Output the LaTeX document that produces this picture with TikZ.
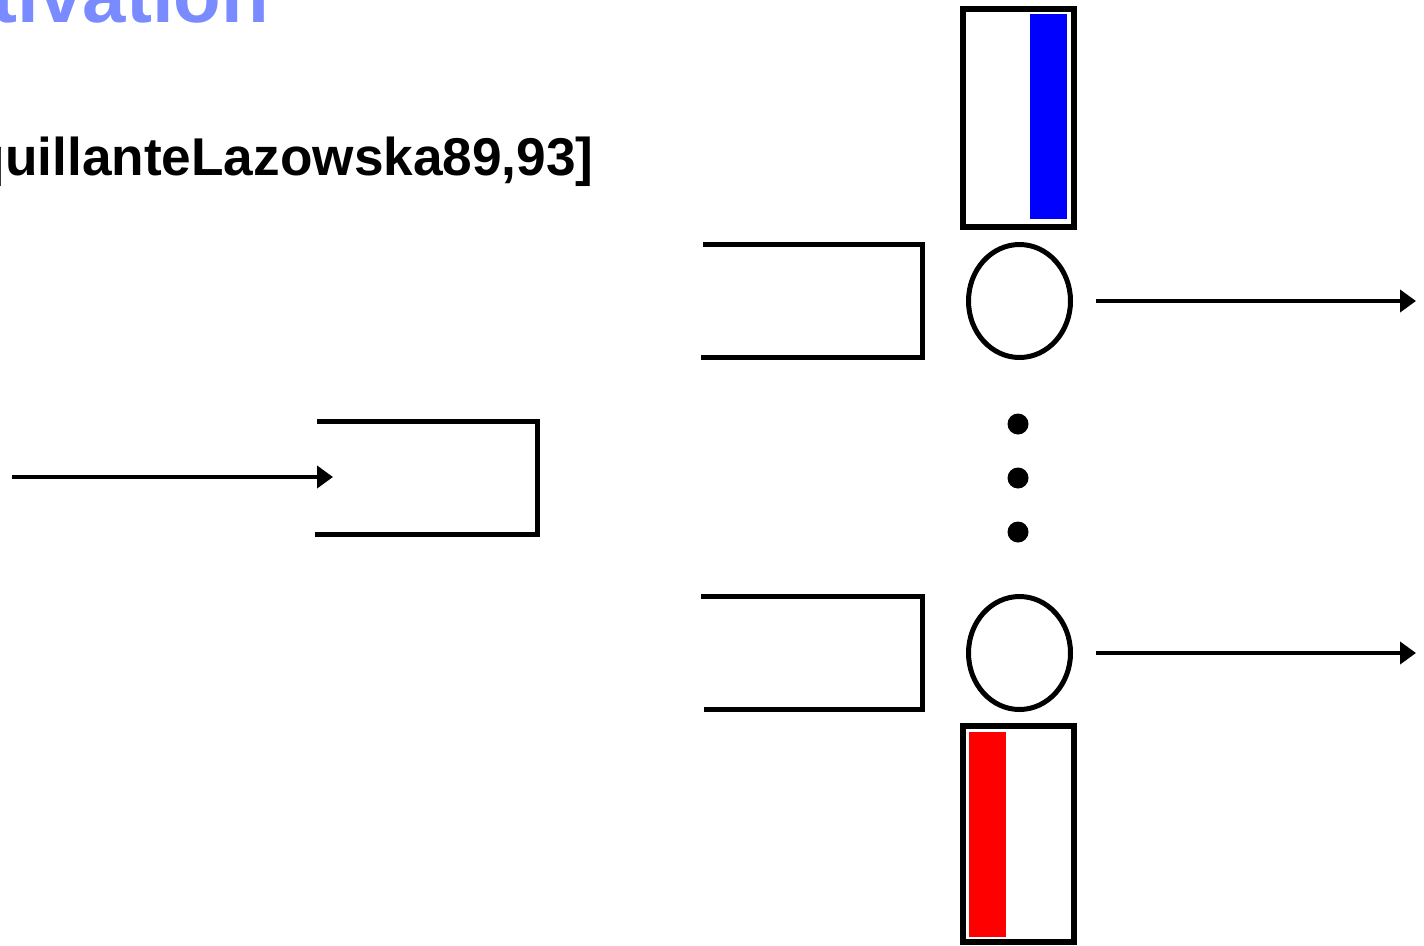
\documentclass[tikz,border=0pt]{standalone}
\usepackage{fontspec}
\setmainfont{Liberation Sans}
\usetikzlibrary{arrows.meta,shapes.geometric}
\definecolor{titleblue}{RGB}{122,138,255}
\definecolor{busyblue}{RGB}{0,0,255}
\definecolor{busyred}{RGB}{255,0,0}
\begin{document}
\begin{tikzpicture}[x=1pt,y=-1pt,
  queue/.style={line width=5pt},
  server/.style={draw,ellipse,line width=5pt,minimum width=102pt,minimum height=113pt,inner sep=0pt},
  flow/.style={line width=4.5pt,-{Triangle[length=16pt,width=22pt]}},
  token/.style={circle,fill=black,minimum size=21pt,inner sep=0pt},
  buffer/.style={draw,line width=6pt},
]
\useasboundingbox (0,0) rectangle (1424,945);
\clip (0,0) rectangle (1424,945);

% headings
\node[anchor=base west,inner sep=0pt,text=titleblue,
      font=\bfseries\fontsize{78}{80}\selectfont] (title) at (-121,22) {Motivation};
\node[anchor=base west,inner sep=0pt,
      font=\bfseries\fontsize{53.2}{60}\selectfont] (ref) at (-27.5,175) {quillanteLazowska89,93]};

% arrival stream and the front queue
\coordinate (src) at (12,477);
\coordinate (q0in) at (333,477);
\draw[flow] (src) -- (q0in);
\draw[queue] (317,421) -- (537,421) -- (537,534) -- (315,534);

% server queues
\draw[queue] (703,244) -- (922,244) -- (922,357) -- (701,357);
\draw[queue] (701,596) -- (922,596) -- (922,709) -- (704,709);

% servers and departures
\node[server] (s1) at (1019.5,301) {};
\node[server] (s2) at (1019.5,653) {};
\coordinate (out1) at (1416,301);
\coordinate (out2) at (1416,653);
\draw[flow] ([xshift=23pt]s1.east) -- (out1);
\draw[flow] ([xshift=23pt]s2.east) -- (out2);

% further servers
\node[token] (d1) at (1018,424) {};
\node[token] (d2) at (1018,478) {};
\node[token] (d3) at (1018,532) {};

% load indicators
\fill[busyblue] (1030,14) rectangle (1067,219);
\draw[buffer] (963,9) rectangle (1074,227);
\fill[busyred] (969,732) rectangle (1006,937);
\draw[buffer] (963,726) rectangle (1074,942);
\end{tikzpicture}
\end{document}
